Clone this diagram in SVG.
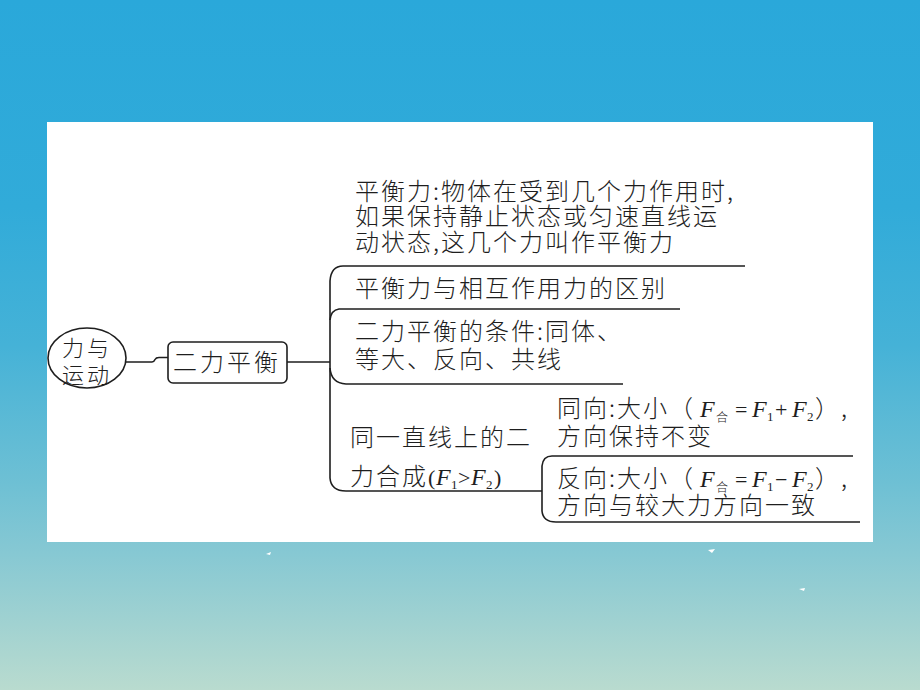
<svg xmlns="http://www.w3.org/2000/svg" width="920" height="690" viewBox="0 0 920 690">
<defs>
<linearGradient id="bg" x1="0" y1="0" x2="0" y2="1">
<stop offset="0" stop-color="#2aa8da"/>
<stop offset="0.3" stop-color="#31abd9"/>
<stop offset="0.5" stop-color="#45b2d7"/>
<stop offset="0.7" stop-color="#6ec0d4"/>
<stop offset="0.8" stop-color="#86c8d3"/>
<stop offset="1" stop-color="#b9dbcf"/>
</linearGradient>
<style>
.t{font-family:"Noto Sans CJK SC","Noto Sans CJK JP",sans-serif;font-size:24px;font-weight:300;fill:#1e1e1e;letter-spacing:2px}
.ln{fill:none;stroke:#1e1e1e;stroke-width:1.6}
.m{font-family:"Liberation Serif",serif;font-style:italic;font-weight:normal;font-size:24px;letter-spacing:0}
.s{font-family:"Liberation Serif",serif;font-weight:normal;font-size:13px;letter-spacing:0}
.r{font-family:"Liberation Serif",serif;font-weight:normal;font-size:22px;letter-spacing:0}
.sc{font-family:"Noto Sans CJK SC",sans-serif;font-size:12px;letter-spacing:0}
</style>
</defs>
<rect width="920" height="690" fill="url(#bg)"/>
<rect x="47" y="122" width="826" height="420" fill="#ffffff"/>
<g fill="#ffffff">
<path d="M266,554 l5,-2 l-1,3 z"/>
<path d="M708,550 l7,-1 l-3,4 z"/>
<path d="M799,589 l6,-1 l-1,3 z"/>
</g>

<g id="connectors">
<path class="ln" d="M126,362 H152 Q154,362 155,359.5 Q156,357.5 159,357.5 H168"/>
<path class="ln" d="M287,362 H330"/>
<path class="ln" d="M745,266 H343 Q331,266 330,281 V478 Q331,491 346,491 H542"/>
<path class="ln" d="M680,309 H339 Q331,310 330,320"/>
<path class="ln" d="M330,368 Q331,383 346,384 H623"/>
<path class="ln" d="M853,456 H552 Q543,456 542,466 V511 Q543,522 556,522 H860"/>
</g>

<g id="root">
<ellipse class="ln" cx="87" cy="358" rx="39" ry="30"/>
<text class="t" x="62" y="356" style="font-size:22px;letter-spacing:3px">力与</text>
<text class="t" x="62" y="383" style="font-size:22px;letter-spacing:3px">运动</text>
</g>

<g id="balance">
<rect class="ln" x="168" y="342" width="119" height="41" rx="5"/>
<text class="t" x="173" y="371" style="letter-spacing:3px">二力平衡</text>
</g>

<g id="def">
<text class="t" x="355" y="200">平衡力:物体在受到几个力作用时,</text>
<text class="t" x="355" y="225">如果保持静止状态或匀速直线运</text>
<text class="t" x="355" y="251">动状态,这几个力叫作平衡力</text>
</g>

<g id="diff">
<text class="t" x="355" y="297">平衡力与相互作用力的区别</text>
</g>

<g id="cond">
<text class="t" x="355" y="340">二力平衡的条件:同体、</text>
<text class="t" x="355" y="368">等大、反向、共线</text>
</g>

<g id="compose">
<text class="t" x="350" y="446">同一直线上的二</text>
<text class="t" x="350" y="485">力合成<tspan class="r" x="428">(</tspan><tspan class="m" x="436">F</tspan><tspan class="s" x="451" dy="4">1</tspan><tspan class="r" x="458" dy="-4">&gt;</tspan><tspan class="m" x="471">F</tspan><tspan class="s" x="486" dy="4">2</tspan><tspan class="r" x="494" dy="-4">)</tspan></text>
</g>

<g id="same">
<text class="t" x="557" y="417">同向:大小（<tspan class="m" x="700">F</tspan><tspan class="sc" x="716" dy="5">合</tspan><tspan class="r" x="735" dy="-5">=</tspan><tspan class="m" x="752">F</tspan><tspan class="s" x="767" dy="4">1</tspan><tspan class="r" x="775" dy="-4">+</tspan><tspan class="m" x="792">F</tspan><tspan class="s" x="807" dy="4">2</tspan><tspan x="815" dy="-4">）,</tspan></text>
<text class="t" x="557" y="445">方向保持不变</text>
</g>

<g id="opposite">
<text class="t" x="557" y="487">反向:大小（<tspan class="m" x="700">F</tspan><tspan class="sc" x="716" dy="5">合</tspan><tspan class="r" x="735" dy="-5">=</tspan><tspan class="m" x="752">F</tspan><tspan class="s" x="767" dy="4">1</tspan><tspan class="r" x="775" dy="-4">−</tspan><tspan class="m" x="792">F</tspan><tspan class="s" x="807" dy="4">2</tspan><tspan x="815" dy="-4">）,</tspan></text>
<text class="t" x="557" y="514">方向与较大力方向一致</text>
</g>
</svg>
